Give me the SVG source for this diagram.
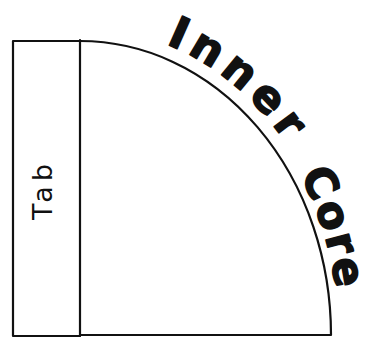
<svg xmlns="http://www.w3.org/2000/svg" width="372" height="342" viewBox="0 0 372 342">
  <style>
    .ln { fill: none; stroke: #111; stroke-width: 2.2; stroke-linejoin: round; stroke-linecap: round; }
    .hand { font-family: "DejaVu Sans", "Liberation Sans", sans-serif; font-weight: bold; fill: #111; stroke: #111; stroke-width: 1.6; stroke-linejoin: round; }
    .tab { font-family: "DejaVu Sans", "Liberation Sans", sans-serif; font-size: 27px; fill: #111; }
  </style>
  <defs>
    <path id="labelPath" d="M 80 27 A 264 309 0 0 1 344 336"/>
    <path id="labelPath2" d="M 80 31 A 259 305 0 0 1 339 336"/>
  </defs>
  <rect width="372" height="342" fill="#ffffff"/>
  <g id="tab">
    <path class="ln" d="M 80 41 L 13 41 L 13 336 L 80 336"/>
    <text class="tab" transform="translate(52 192) rotate(-90)" text-anchor="middle" textLength="56" lengthAdjust="spacing">Tab</text>
  </g>
  <g id="inner-core">
    <path class="ln" d="M 80 41 A 251 294 0 0 1 331 335 L 80 335"/>
    <line class="ln" x1="80" y1="40" x2="80" y2="336" stroke-width="3"/>
  </g>
  <g id="label">
    <text class="hand" font-size="44"><textPath href="#labelPath" startOffset="88" textLength="156" lengthAdjust="spacing">Inner</textPath></text>
    <text class="hand" font-size="43"><textPath href="#labelPath2" startOffset="276" textLength="120" lengthAdjust="spacing">Core</textPath></text>
  </g>
</svg>
